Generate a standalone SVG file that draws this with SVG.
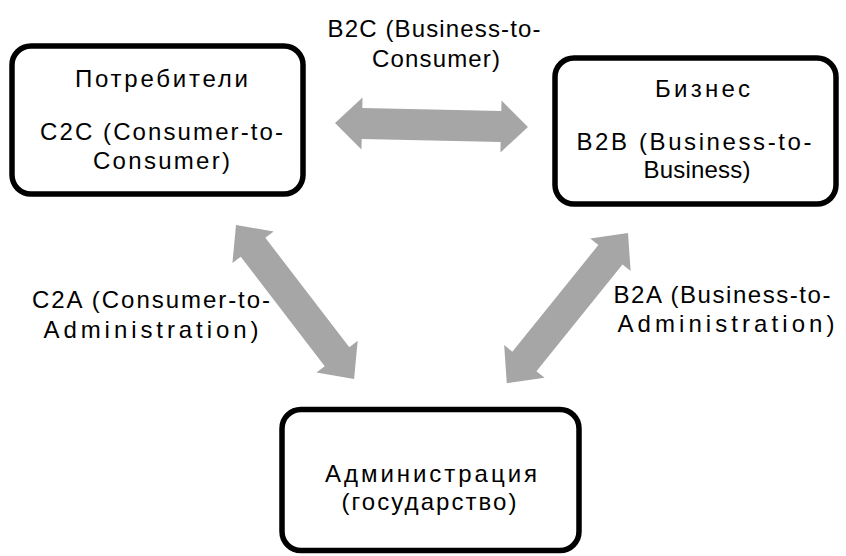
<svg xmlns="http://www.w3.org/2000/svg" width="846" height="556" viewBox="0 0 846 556">
<style>
.box{fill:#fff;stroke:#000;stroke-width:5.5}
.arr{fill:#a6a6a6;stroke:none}
text{font-family:"Liberation Sans",Arial,sans-serif;font-size:24px;fill:#000;text-anchor:middle}
</style>
<rect width="846" height="556" fill="#fff"/>
<g id="connectors">
  <polygon class="arr" transform="translate(335,123) rotate(1.19)" points="0,0 27,-26 27,-15.5 166,-15.5 166,-26 193,0 166,26 166,15.5 27,15.5 27,26"/>
  <polygon class="arr" transform="translate(236,225) rotate(52.5)" points="0,0 28,-26 28,-15.5 166,-15.5 166,-26 194,0 166,26 166,15.5 28,15.5 28,26"/>
  <polygon class="arr" transform="translate(628,233) rotate(128.9)" points="0,0 28,-26 28,-15.5 165,-15.5 165,-26 193,0 165,26 165,15.5 28,15.5 28,26"/>
</g>
<g id="label-b2c">
  <text x="434" y="37" textLength="213" lengthAdjust="spacing">B2C (Business-to-</text>
  <text x="436" y="67" textLength="128" lengthAdjust="spacing">Consumer)</text>
</g>
<g id="label-c2a">
  <text x="151" y="308" textLength="238" lengthAdjust="spacing">C2A (Consumer-to-</text>
  <text x="151" y="338" textLength="215" lengthAdjust="spacing">Administration)</text>
</g>
<g id="label-b2a">
  <text x="722" y="303" textLength="217" lengthAdjust="spacing">B2A (Business-to-</text>
  <text x="726" y="332" textLength="217" lengthAdjust="spacing">Administration)</text>
</g>
<g id="node-consumers">
  <rect class="box" x="12" y="46" width="291" height="148" rx="19"/>
  <text x="161.5" y="87" textLength="173" lengthAdjust="spacing">Потребители</text>
  <text x="161.5" y="140" textLength="243" lengthAdjust="spacing">C2C (Consumer-to-</text>
  <text x="161.5" y="169" textLength="137" lengthAdjust="spacing">Consumer)</text>
</g>
<g id="node-business">
  <rect class="box" x="555" y="58" width="281" height="146" rx="19"/>
  <text x="702.5" y="97" textLength="95" lengthAdjust="spacing">Бизнес</text>
  <text x="694" y="150" textLength="235" lengthAdjust="spacing">B2B (Business-to-</text>
  <text x="697" y="178" textLength="107" lengthAdjust="spacing">Business)</text>
</g>
<g id="node-administration">
  <rect class="box" x="282" y="409.5" width="297" height="141" rx="19"/>
  <text x="431" y="482" textLength="212" lengthAdjust="spacing">Администрация</text>
  <text x="429" y="510" textLength="175" lengthAdjust="spacing">(государство)</text>
</g>
</svg>
